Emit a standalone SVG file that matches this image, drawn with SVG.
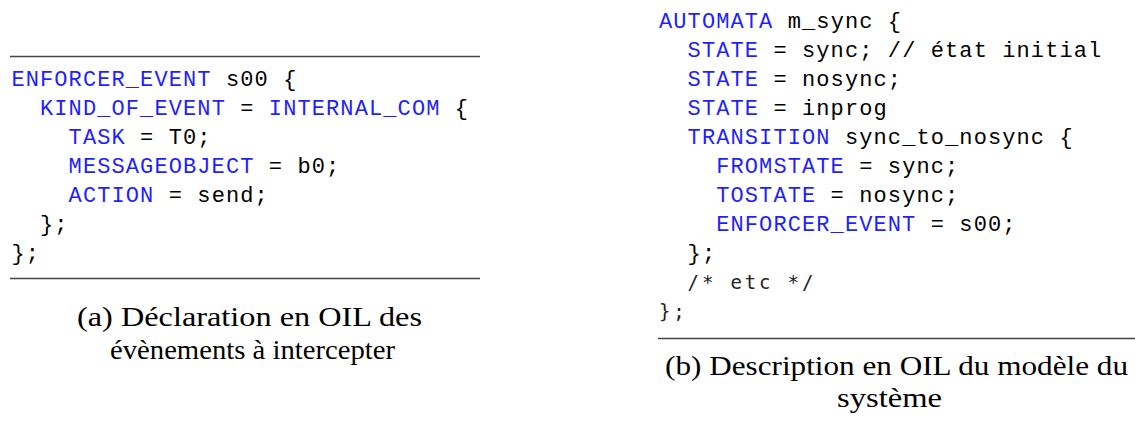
<svg xmlns="http://www.w3.org/2000/svg" width="1135" height="423" viewBox="0 0 1135 423">
<style>
.code{font-family:"Liberation Mono","DejaVu Sans Mono",monospace;font-size:22px;letter-spacing:1.1px;fill:#000;white-space:pre}
.kw{fill:#1f1fff}
.cm{font-family:"DejaVu Sans Mono","Liberation Mono",monospace;font-size:19px;letter-spacing:2.85px;fill:#222;white-space:pre}
.cap{font-family:"Liberation Serif","Times New Roman",serif;font-size:28px;fill:#000}
.rule{stroke:#444;stroke-width:1.3}
</style>
<rect width="1135" height="423" fill="#fff"/>
<g id="listing-a">
<line class="rule" x1="10" y1="56.5" x2="480" y2="56.5"/>
<text class="code" x="11.4" y="86"><tspan class="kw">ENFORCER_EVENT</tspan> s00 {</text>
<text class="code" x="40" y="115"><tspan class="kw">KIND_OF_EVENT</tspan> = <tspan class="kw">INTERNAL_COM</tspan> {</text>
<text class="code" x="68.6" y="144"><tspan class="kw">TASK</tspan> = T0;</text>
<text class="code" x="68.6" y="173"><tspan class="kw">MESSAGEOBJECT</tspan> = b0;</text>
<text class="code" x="68.6" y="202"><tspan class="kw">ACTION</tspan> = send;</text>
<text class="code" x="40" y="231">};</text>
<text class="code" x="11.4" y="260">};</text>
<line class="rule" x1="10" y1="278.5" x2="480" y2="278.5"/>
</g>
<g id="caption-a">
<text class="cap" x="77" y="326" textLength="345" lengthAdjust="spacingAndGlyphs">(a) Déclaration en OIL des</text>
<text class="cap" x="110" y="359" textLength="285" lengthAdjust="spacingAndGlyphs">évènements à intercepter</text>
</g>
<g id="listing-b">
<text class="code" x="659" y="28"><tspan class="kw">AUTOMATA</tspan> m_sync {</text>
<text class="code" x="687.6" y="57"><tspan class="kw">STATE</tspan> = sync; // état initial</text>
<text class="code" x="687.6" y="86"><tspan class="kw">STATE</tspan> = nosync;</text>
<text class="code" x="687.6" y="115"><tspan class="kw">STATE</tspan> = inprog</text>
<text class="code" x="687.6" y="144"><tspan class="kw">TRANSITION</tspan> sync_to_nosync {</text>
<text class="code" x="716.2" y="173"><tspan class="kw">FROMSTATE</tspan> = sync;</text>
<text class="code" x="716.2" y="202"><tspan class="kw">TOSTATE</tspan> = nosync;</text>
<text class="code" x="716.2" y="231"><tspan class="kw">ENFORCER_EVENT</tspan> = s00;</text>
<text class="code" x="687.6" y="260">};</text>
<text class="cm" x="687.6" y="289">/* etc */</text>
<text class="cm" x="659" y="318">};</text>
<line class="rule" x1="658" y1="338.5" x2="1135" y2="338.5"/>
</g>
<g id="caption-b">
<text class="cap" x="665" y="375" textLength="463" lengthAdjust="spacingAndGlyphs">(b) Description en OIL du modèle du</text>
<text class="cap" x="837" y="407" textLength="105" lengthAdjust="spacingAndGlyphs">système</text>
</g>
</svg>
